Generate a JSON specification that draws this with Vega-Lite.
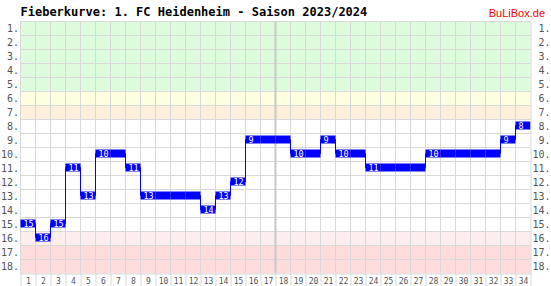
{
  "$schema": "https://vega.github.io/schema/vega-lite/v6.json",
  "width": 510,
  "height": 252,
  "autosize": "none",
  "padding": {"left": 20.5, "top": 21.5, "right": 20.5, "bottom": 12.5},
  "background": "white",
  "config": {"view": {"stroke": null}, "font": "DejaVu Sans Mono"},
  "title": {
    "text": "Fieberkurve: 1. FC Heidenheim - Saison 2023/2024",
    "anchor": "start",
    "frame": "group",
    "font": "DejaVu Sans Mono",
    "fontSize": 12,
    "fontWeight": "bold",
    "color": "#000000",
    "offset": 0,
    "baseline": "alphabetic",
    "dy": 20
  },
  "datasets": {
    "season": [
      {"md": 1, "rank": 15}, {"md": 2, "rank": 16}, {"md": 3, "rank": 15}, {"md": 4, "rank": 11},
      {"md": 5, "rank": 13}, {"md": 6, "rank": 10}, {"md": 7, "rank": 10}, {"md": 8, "rank": 11},
      {"md": 9, "rank": 13}, {"md": 10, "rank": 13}, {"md": 11, "rank": 13}, {"md": 12, "rank": 13},
      {"md": 13, "rank": 14}, {"md": 14, "rank": 13}, {"md": 15, "rank": 12}, {"md": 16, "rank": 9},
      {"md": 17, "rank": 9}, {"md": 18, "rank": 9}, {"md": 19, "rank": 10}, {"md": 20, "rank": 10},
      {"md": 21, "rank": 9}, {"md": 22, "rank": 10}, {"md": 23, "rank": 10}, {"md": 24, "rank": 11},
      {"md": 25, "rank": 11}, {"md": 26, "rank": 11}, {"md": 27, "rank": 11}, {"md": 28, "rank": 10},
      {"md": 29, "rank": 10}, {"md": 30, "rank": 10}, {"md": 31, "rank": 10}, {"md": 32, "rank": 10},
      {"md": 33, "rank": 9}, {"md": 34, "rank": 8}
    ],
    "zones": [
      {"rank": 1, "zone": "green"}, {"rank": 2, "zone": "green"}, {"rank": 3, "zone": "green"},
      {"rank": 4, "zone": "green"}, {"rank": 5, "zone": "green"}, {"rank": 6, "zone": "yellow"},
      {"rank": 7, "zone": "orange"}, {"rank": 8, "zone": "none"}, {"rank": 9, "zone": "none"},
      {"rank": 10, "zone": "none"}, {"rank": 11, "zone": "none"}, {"rank": 12, "zone": "none"},
      {"rank": 13, "zone": "none"}, {"rank": 14, "zone": "none"}, {"rank": 15, "zone": "none"},
      {"rank": 16, "zone": "lightred"}, {"rank": 17, "zone": "red"}, {"rank": 18, "zone": "red"}
    ]
  },
  "layer": [
    {
      "data": {"name": "zones"},
      "mark": {"type": "rect"},
      "encoding": {
        "y": {
          "field": "rank", "type": "ordinal",
          "scale": {"domain": [1,2,3,4,5,6,7,8,9,10,11,12,13,14,15,16,17,18], "paddingInner": 0, "paddingOuter": 0},
          "axis": {
            "orient": "left", "title": null, "ticks": false, "domain": false, "grid": false,
            "labelExpr": "datum.label + '.'", "labelFont": "DejaVu Sans Mono", "labelFontSize": 10,
            "labelColor": "#555555", "labelPadding": 2, "zindex": 1
          }
        },
        "color": {
          "field": "zone", "type": "nominal", "legend": null,
          "scale": {
            "domain": ["green", "yellow", "orange", "none", "lightred", "red"],
            "range": ["#ddfcdd", "#fefee0", "#feeedc", "#ffffff", "#fdeded", "#fedcdc"]
          }
        }
      }
    },
    {
      "data": {"name": "zones"},
      "mark": {"type": "rule", "stroke": "#d8d8d8", "strokeWidth": 1},
      "encoding": {
        "y": {
          "field": "rank", "type": "ordinal", "bandPosition": 0,
          "axis": {
            "orient": "right", "title": null, "ticks": false, "domain": true, "domainColor": "#d8d8d8", "grid": false,
            "labelExpr": "datum.label + '.'", "labelFont": "DejaVu Sans Mono", "labelFontSize": 10,
            "labelColor": "#555555", "labelPadding": 19.5, "labelAlign": "right", "zindex": 1
          }
        }
      }
    },
    {
      "data": {"name": "season"},
      "mark": {"type": "rule", "stroke": "#d8d8d8", "strokeWidth": 1},
      "encoding": {
        "x": {
          "field": "md", "type": "ordinal", "bandPosition": 0,
          "scale": {"domain": [1,2,3,4,5,6,7,8,9,10,11,12,13,14,15,16,17,18,19,20,21,22,23,24,25,26,27,28,29,30,31,32,33,34], "paddingInner": 0, "paddingOuter": 0},
          "axis": {
            "orient": "bottom", "title": null, "grid": false, "tickBand": "extent", "ticks": true,
            "tickSize": 13, "tickColor": "#d8d8d8", "domainColor": "#d8d8d8", "labelAngle": 0,
            "labelFont": "DejaVu Sans Mono", "labelFontSize": 8, "labelColor": "#555555",
            "labelPadding": -9, "labelBaseline": "top", "zindex": 1
          }
        }
      }
    },
    {
      "data": {"name": "season"},
      "transform": [{"filter": "datum.md == 18"}],
      "mark": {"type": "rule", "stroke": "#c8c8c8", "strokeWidth": 2},
      "encoding": {
        "x": {"field": "md", "type": "ordinal", "bandPosition": 0, "axis": null}
      }
    },
    {
      "data": {"name": "season"},
      "mark": {"type": "line", "interpolate": "step", "stroke": "#0000ff", "strokeWidth": 1, "yOffset": -1},
      "encoding": {
        "x": {
          "field": "md", "type": "ordinal",
          "axis": {
            "orient": "top", "labels": false, "ticks": false, "domain": false, "grid": false,
            "title": "BuLiBox.de", "titleFont": "Liberation Sans", "titleFontSize": 11,
            "titleFontWeight": "normal", "titleColor": "#ee0000", "titleAlign": "right",
            "titleAnchor": "end", "titleBaseline": "alphabetic", "titleX": 524, "titleY": -5
          }
        },
        "y": {"field": "rank", "type": "ordinal", "axis": null}
      }
    },
    {
      "data": {"name": "season"},
      "mark": {"type": "rect", "fill": "#0000ff", "height": 8, "yOffset": -1},
      "encoding": {
        "x": {"field": "md", "type": "ordinal", "axis": null},
        "y": {"field": "rank", "type": "ordinal", "axis": null}
      }
    },
    {
      "data": {"name": "season"},
      "transform": [
        {"window": [{"op": "lag", "field": "rank", "as": "prev"}], "sort": [{"field": "md"}]},
        {"filter": "datum.prev == null || datum.prev != datum.rank"}
      ],
      "mark": {"type": "text", "align": "left", "baseline": "middle", "dx": 3, "yOffset": -1,
               "fill": "#ffffff", "font": "DejaVu Sans Mono", "fontSize": 8.5},
      "encoding": {
        "x": {"field": "md", "type": "ordinal", "bandPosition": 0, "axis": null},
        "y": {"field": "rank", "type": "ordinal", "axis": null},
        "text": {"field": "rank", "type": "quantitative"}
      }
    }
  ]
}
